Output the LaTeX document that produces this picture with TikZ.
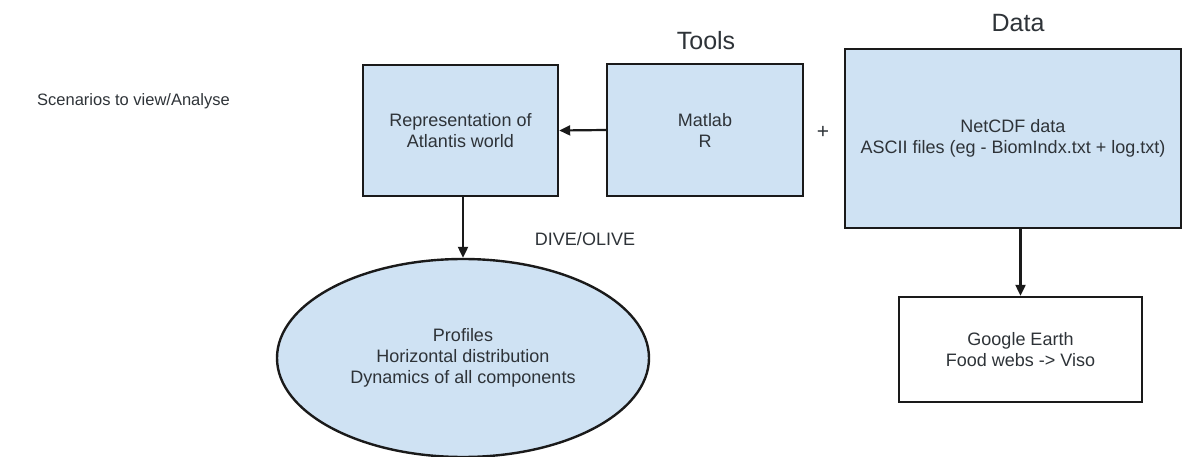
\documentclass[tikz,border=0pt]{standalone}
\usepackage{fontspec}
\setmainfont{Liberation Sans}
\usetikzlibrary{arrows.meta,shapes.geometric}
\definecolor{boxfill}{HTML}{CFE2F3}
\definecolor{txt}{HTML}{2E3338}
\definecolor{edge}{HTML}{1A1A1A}
\tikzset{
  bx/.style={draw=edge, line width=2.4pt, rectangle, align=center, text=txt, font=\fontsize{18}{21}\selectfont},
  bluebox/.style={bx, fill=boxfill},
  oval/.style={draw=edge, line width=2.4pt, ellipse, fill=boxfill, align=center, text=txt, font=\fontsize{18}{21}\selectfont, inner sep=0pt},
  lbl/.style={text=txt, font=\fontsize{18}{21}\selectfont, inner sep=0pt},
  title/.style={text=txt, font=\fontsize{25}{28}\selectfont, inner sep=0pt},
  arr/.style={draw=edge, line width=2.2pt, -{Triangle[length=11pt,width=10pt]}}
}
\begin{document}
\begin{tikzpicture}[x=1pt,y=-1pt]
\useasboundingbox (0,0) rectangle (1184,457);
\node[bluebox, minimum width=195pt, minimum height=131pt] (rep) at (460.5,130.5) {Representation of\\Atlantis world};
\node[bluebox, minimum width=196pt, minimum height=132pt] (tools) at (705,130) {Matlab\\R};
\node[bluebox, minimum width=336pt, minimum height=179pt] (data) at (1013,138.5) {NetCDF data\\ASCII files (eg - BiomIndx.txt + log.txt)};
\node[bx, fill=white, minimum width=243pt, minimum height=105pt] (ge) at (1020.5,349.5) {Google Earth\\Food webs -> Viso};
\node[oval, minimum width=372pt, minimum height=198pt] (prof) at (463,358) {Profiles\\Horizontal distribution\\Dynamics of all components};
\node[title] (toolslbl) at (706,41) {Tools};
\node[title] (datalbl) at (1018,23) {Data};
\node[lbl, font=\fontsize{21}{24}\selectfont] (plus) at (823,132) {+};
\node[lbl] (dive) at (585,239) {DIVE/OLIVE};
\node[lbl, anchor=west, font=\fontsize{16.5}{20}\selectfont] (scen) at (37,101) {Scenarios to view/Analyse};
\draw[arr] (tools.west) -- (rep.east);
\draw[arr] (rep.south -| prof.north) -- (prof.north);
\draw[arr] (ge.north |- data.south) -- (ge.north);
\end{tikzpicture}
\end{document}
